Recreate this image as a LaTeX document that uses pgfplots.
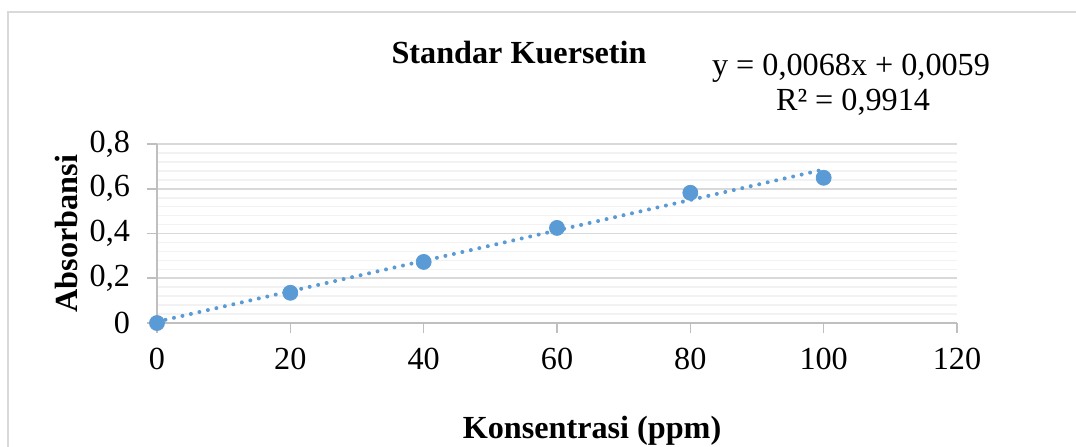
\documentclass[border=0pt]{standalone}
\usepackage{pgfplots}
\pgfplotsset{compat=1.18}
\usepackage{fontspec}
\setmainfont{Liberation Serif}
\definecolor{ptblue}{HTML}{5B9BD5}
\definecolor{framegray}{HTML}{D9D9D9}
\definecolor{axisgray}{HTML}{BFBFBF}
\definecolor{majgrid}{HTML}{D9D9D9}
\definecolor{mingrid}{HTML}{F2F2F2}
\newcommand{\chartfont}{\fontsize{16.1}{19}\selectfont}
\begin{document}
\begin{tikzpicture}
\path[use as bounding box] (0pt,0pt) rectangle (538pt,-223pt);
\draw[framegray, line width=0.6pt] (4pt,-224pt) -- (4pt,-6pt) -- (539pt,-6pt);
\begin{axis}[
  at={(78.5pt,-161.5pt)}, anchor=south west,
  scale only axis, width=400pt, height=89.5pt,
  xmin=0, xmax=120, ymin=0, ymax=0.8,
  axis x line*=bottom, axis y line*=left,
  axis line style={axisgray, line width=0.8pt},
  xtick={0,20,40,60,80,100,120},
  xticklabels={0,20,40,60,80,100,120},
  ytick={0,0.2,0.4,0.6,0.8},
  yticklabels={0,{0,2},{0,4},{0,6},{0,8}},
  /pgf/number format/assume math mode=true,
  minor y tick num=4,
  tick align=outside,
  major tick length=5pt, minor tick length=0pt,
  tick style={axisgray, line width=0.8pt},
  ymajorgrids, yminorgrids,
  major grid style={majgrid, line width=0.8pt},
  minor grid style={mingrid, line width=0.8pt},
  tick label style={font=\chartfont},
  xticklabel style={yshift=-4pt},
  yticklabel style={xshift=-5pt},
  clip=false,
]
\addplot[ptblue, line width=2pt, line cap=round, dash pattern=on 0pt off 4.35pt]
  coordinates {(0,0.0059) (100,0.6859)};
\addplot[only marks, mark=*, mark size=3.75pt, ptblue, mark options={draw=ptblue, fill=ptblue}]
  coordinates {(0,0) (20,0.135) (40,0.273) (60,0.425) (80,0.582) (100,0.649)};
\end{axis}
\node[anchor=base, font=\chartfont\bfseries] at (259.5pt,-31.5pt) {Standar Kuersetin};
\node[anchor=base, font=\chartfont] at (425.5pt,-37.5pt) {y = 0,0068x + 0,0059};
\node[anchor=base, font=\chartfont] at (426.5pt,-55pt) {R² = 0,9914};
\node[anchor=base, rotate=90, font=\chartfont\bfseries] at (38.5pt,-116.75pt) {Absorbansi};
\node[anchor=base, font=\chartfont\bfseries] at (296pt,-219pt) {Konsentrasi (ppm)};
\end{tikzpicture}
\end{document}
